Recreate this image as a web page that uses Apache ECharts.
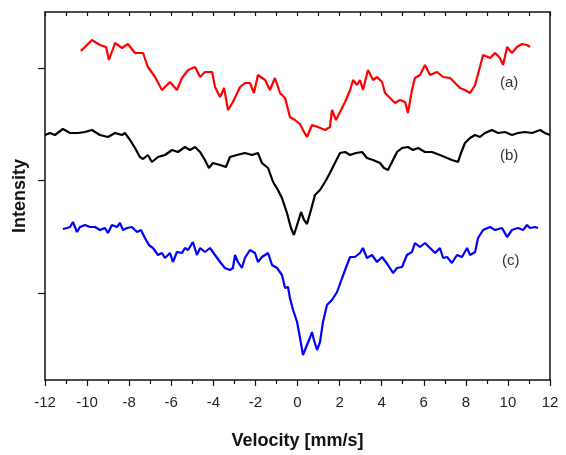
<!DOCTYPE html>
<html>
<head>
<meta charset="utf-8">
<script src="https://cdn.jsdelivr.net/npm/echarts@6/dist/echarts.min.js"></script>
<style>
  html, body { margin: 0; padding: 0; background: #fff; }
  #chart { width: 566px; height: 455px; }
</style>
</head>
<body>
<div id="chart"></div>
<script>
// velocity (mm/s) / relative intensity
var redVel = [-10.29, -9.77, -9.39, -9.10, -8.96, -8.67, -8.34, -8.06, -7.72, -7.34, -7.11, -6.77, -6.44, -6.06, -5.73, -5.49, -5.20, -4.87, -4.63, -4.40, -4.06, -3.92, -3.68, -3.49, -3.30, -3.07, -2.73, -2.50, -2.26, -2.07, -1.88, -1.54, -1.31, -1.07, -0.83, -0.59, -0.36, -0.12, 0.12, 0.26, 0.45, 0.69, 0.97, 1.31, 1.54, 1.64, 1.83, 2.02, 2.26, 2.50, 2.64, 2.83, 2.97, 3.11, 3.35, 3.59, 3.78, 4.02, 4.16, 4.40, 4.63, 4.87, 5.11, 5.25, 5.44, 5.58, 5.82, 6.06, 6.30, 6.63, 6.92, 7.25, 7.49, 7.72, 7.96, 8.20, 8.44, 8.67, 8.82, 9.15, 9.39, 9.62, 9.77, 9.96, 10.19, 10.43, 10.67, 10.91, 11.05];
var redInt = [329, 340, 335, 333, 320, 337, 332, 336, 327, 327, 313, 303, 290, 298, 290, 302, 310, 313, 303, 308, 308, 293, 283, 292, 270, 278, 293, 297, 297, 287, 305, 300, 290, 302, 287, 282, 263, 260, 256, 250, 243, 255, 253, 250, 253, 270, 260, 268, 278, 290, 300, 295, 300, 290, 310, 300, 303, 298, 287, 282, 277, 280, 278, 267, 290, 302, 305, 315, 305, 308, 303, 302, 297, 292, 290, 287, 295, 313, 325, 322, 327, 322, 315, 333, 327, 333, 336, 335, 333];

var blackVel = [-12.00, -11.76, -11.53, -11.15, -10.81, -10.43, -10.10, -9.77, -9.39, -9.01, -8.67, -8.34, -8.20, -7.96, -7.72, -7.49, -7.34, -7.11, -6.92, -6.63, -6.30, -5.96, -5.68, -5.35, -5.11, -4.87, -4.63, -4.40, -4.21, -4.02, -3.68, -3.40, -3.21, -2.88, -2.50, -2.16, -1.88, -1.69, -1.40, -1.16, -0.93, -0.74, -0.50, -0.31, -0.17, -0.02, 0.17, 0.31, 0.45, 0.64, 0.83, 1.07, 1.31, 1.54, 1.78, 2.02, 2.26, 2.50, 2.78, 3.07, 3.30, 3.59, 3.92, 4.11, 4.30, 4.49, 4.73, 4.97, 5.25, 5.49, 5.73, 6.06, 6.39, 6.77, 7.11, 7.34, 7.63, 7.77, 7.96, 8.20, 8.44, 8.67, 8.91, 9.24, 9.53, 9.86, 10.19, 10.48, 10.81, 11.15, 11.53, 11.76, 12.00];
var blackInt = [245, 247, 245, 251, 247, 247, 248, 250, 245, 243, 247, 245, 247, 240, 232, 223, 221, 225, 218, 223, 225, 230, 228, 233, 230, 233, 228, 220, 212, 217, 215, 213, 223, 225, 227, 225, 227, 217, 212, 198, 190, 182, 167, 152, 145, 155, 168, 160, 156, 170, 185, 190, 198, 207, 217, 227, 228, 225, 227, 228, 222, 220, 217, 212, 210, 218, 228, 232, 233, 230, 232, 228, 228, 225, 222, 220, 218, 227, 237, 242, 245, 243, 247, 250, 247, 248, 245, 247, 248, 247, 250, 247, 245];

var blueVel = [-11.15, -10.96, -10.81, -10.67, -10.48, -10.34, -10.10, -9.86, -9.62, -9.39, -9.15, -9.01, -8.82, -8.58, -8.44, -8.29, -8.10, -7.87, -7.63, -7.44, -7.25, -7.06, -6.87, -6.63, -6.44, -6.30, -6.06, -5.92, -5.73, -5.49, -5.35, -5.20, -4.97, -4.78, -4.63, -4.40, -4.16, -3.92, -3.68, -3.45, -3.21, -3.07, -2.97, -2.83, -2.64, -2.50, -2.26, -2.02, -1.88, -1.69, -1.54, -1.40, -1.21, -0.97, -0.74, -0.59, -0.45, -0.36, -0.21, -0.02, 0.12, 0.26, 0.45, 0.59, 0.69, 0.78, 0.93, 1.07, 1.21, 1.40, 1.64, 1.88, 2.12, 2.35, 2.50, 2.73, 2.97, 3.11, 3.30, 3.54, 3.78, 4.02, 4.30, 4.54, 4.73, 4.97, 5.20, 5.44, 5.58, 5.82, 6.06, 6.30, 6.54, 6.77, 6.92, 7.11, 7.34, 7.58, 7.82, 8.06, 8.20, 8.44, 8.58, 8.82, 9.15, 9.39, 9.72, 9.96, 10.19, 10.48, 10.72, 10.91, 11.05, 11.29, 11.43];
var blueInt = [151, 152, 153, 158, 148, 153, 155, 153, 153, 150, 152, 147, 155, 153, 157, 150, 152, 153, 148, 150, 142, 135, 132, 125, 127, 122, 127, 118, 128, 127, 132, 130, 138, 125, 132, 128, 132, 125, 118, 112, 110, 112, 125, 118, 112, 122, 130, 127, 118, 123, 125, 127, 115, 112, 105, 92, 93, 82, 70, 58, 42, 25, 35, 42, 48, 40, 30, 38, 58, 75, 80, 88, 102, 115, 123, 123, 127, 132, 122, 125, 118, 123, 115, 107, 112, 113, 125, 128, 137, 133, 137, 132, 127, 132, 122, 123, 117, 125, 123, 132, 125, 128, 142, 150, 153, 150, 152, 143, 150, 152, 150, 155, 152, 153, 152];

var xTicks = [-12, 12, 2];
var yTickValues = [87, 200, 312];
var curveLabels = ['(a)', '(b)', '(c)'];

function pairs(xs, ys) {
  return xs.map(function (x, i) { return [x, ys[i]]; });
}

var chart = echarts.init(document.getElementById('chart'), null, { renderer: 'canvas' });

var font = 'Liberation Sans, Arial, sans-serif';
var lineSeries = function (name, data, color) {
  return {
    name: name,
    type: 'line',
    data: data,
    symbol: 'none',
    smooth: false,
    lineStyle: { color: color, width: 2.2 },
    animation: false
  };
};

chart.setOption({
  backgroundColor: '#fff',
  grid: { left: 45, right: 16, top: 12, bottom: 73, containLabel: false },
  xAxis: [
    {
      type: 'value',
      min: xTicks[0],
      max: xTicks[1],
      interval: xTicks[2],
      position: 'bottom',
      name: 'Velocity [mm/s]',
      nameLocation: 'middle',
      nameGap: 52,
      nameTextStyle: { fontFamily: font, fontSize: 18, fontWeight: 'bold', color: '#111' },
      axisLine: { onZero: false, lineStyle: { color: '#111', width: 1.5 } },
      axisTick: { show: true, inside: false, length: 6, lineStyle: { color: '#111', width: 1.2 } },
      minorTick: { show: true, splitNumber: 2, length: 4, lineStyle: { color: '#111', width: 1.2 } },
      axisLabel: { fontFamily: font, fontSize: 15, color: '#222', margin: 15 },
      splitLine: { show: false }
    },
    {
      type: 'value',
      min: xTicks[0],
      max: xTicks[1],
      interval: 1,
      position: 'top',
      axisLine: { onZero: false, lineStyle: { color: '#111', width: 1.5 } },
      axisTick: { show: true, inside: true, length: 4, lineStyle: { color: '#111', width: 1.2 } },
      axisLabel: { show: false },
      splitLine: { show: false }
    }
  ],
  yAxis: [
    {
      type: 'value',
      min: 0,
      max: 368,
      position: 'left',
      name: 'Intensity',
      nameLocation: 'middle',
      nameGap: 16,
      nameRotate: 90,
      nameTextStyle: { fontFamily: font, fontSize: 18, fontWeight: 'bold', color: '#111' },
      axisLine: { show: true, onZero: false, lineStyle: { color: '#111', width: 1.5 } },
      axisTick: { show: true, inside: false, length: 7, customValues: yTickValues, lineStyle: { color: '#111', width: 1.2 } },
      axisLabel: { show: false },
      splitLine: { show: false }
    },
    {
      type: 'value',
      min: 0,
      max: 368,
      position: 'right',
      axisLine: { show: true, onZero: false, lineStyle: { color: '#111', width: 1.5 } },
      axisTick: { show: false },
      axisLabel: { show: false },
      splitLine: { show: false }
    }
  ],
  series: [
    lineSeries('a', pairs(redVel, redInt), '#ff0000'),
    lineSeries('b', pairs(blackVel, blackInt), '#000000'),
    lineSeries('c', pairs(blueVel, blueInt), '#0000ff')
  ],
  graphic: [
    { type: 'text', left: 500, top: 75, style: { text: curveLabels[0], font: '15px ' + font, fill: '#333' } },
    { type: 'text', left: 500, top: 148, style: { text: curveLabels[1], font: '15px ' + font, fill: '#333' } },
    { type: 'text', left: 502, top: 253, style: { text: curveLabels[2], font: '15px ' + font, fill: '#333' } }
  ]
});
</script>
</body>
</html>
